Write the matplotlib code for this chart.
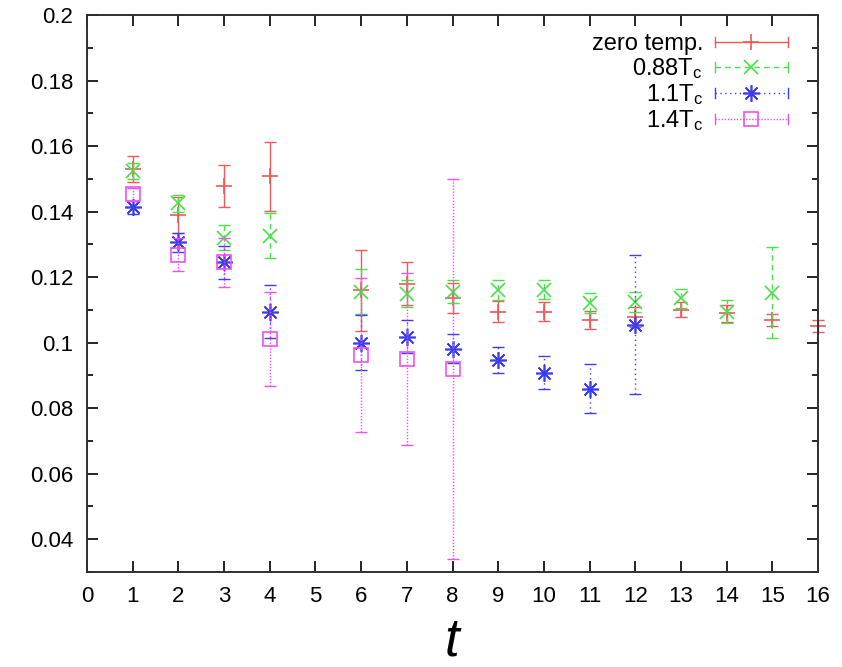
import matplotlib
matplotlib.use("Agg")
import matplotlib.pyplot as plt
from matplotlib.lines import Line2D
from matplotlib.legend_handler import HandlerBase
from matplotlib.ticker import MultipleLocator, FormatStrFormatter

plt.rcParams['font.family'] = ['Liberation Sans', 'DejaVu Sans']
plt.rcParams['mathtext.default'] = 'regular'

# ---- data ----
t_zero = [1, 2, 3, 4, 6, 7, 8, 9, 10, 11, 12, 13, 14, 15, 16]
v_zero = [0.153, 0.139, 0.1477, 0.1508, 0.116, 0.118, 0.1135, 0.1095, 0.1095,
          0.107, 0.1078, 0.110, 0.1089, 0.107, 0.105]
e_zero = [0.004, 0.0055, 0.0064, 0.0105, 0.0124, 0.0066, 0.0046, 0.0033, 0.003,
          0.0028, 0.003, 0.0023, 0.0025, 0.0018, 0.0018]

t_088 = [1, 2, 3, 4, 6, 7, 8, 9, 10, 11, 12, 13, 14, 15]
v_088 = [0.1523, 0.1425, 0.132, 0.1327, 0.1156, 0.115, 0.1156, 0.116, 0.1162,
         0.1122, 0.1125, 0.1135, 0.1095, 0.1153]
e_088 = [0.0025, 0.0025, 0.0038, 0.0068, 0.007, 0.004, 0.0035, 0.003, 0.003,
         0.003, 0.003, 0.003, 0.0035, 0.014]

t_11 = [1, 2, 3, 4, 6, 7, 8, 9, 10, 11, 12]
v_11 = [0.1413, 0.1306, 0.1245, 0.1095, 0.1, 0.1018, 0.0982, 0.0948, 0.0908,
        0.0859, 0.1055]
e_11 = [0.002, 0.003, 0.005, 0.008, 0.0085, 0.005, 0.0045, 0.004, 0.005,
        0.0075, 0.0212]

t_14 = [1, 2, 3, 4, 6, 7, 8]
v_14 = [0.1453, 0.1269, 0.1245, 0.1012, 0.0963, 0.0951, 0.092]
e_14 = [0.002, 0.005, 0.0074, 0.0144, 0.0235, 0.0263, 0.058]

labels = ["zero temp.", "0.88T$_c$", "1.1T$_c$", "1.4T$_c$"]
x_ticks = list(range(0, 17))
y_ticks = [0.04, 0.06, 0.08, 0.1, 0.12, 0.14, 0.16, 0.18, 0.2]

# ---- styles ----
styles = [
    dict(color='#f05858', ls='-', marker='+', ms=11, mfc='#f05858'),
    dict(color='#48e048', ls=(0, (4, 3)), marker='x', ms=10, mfc='#48e048'),
    dict(color='#3c3cf0', ls=(0, (1, 2.5)), marker=(8, 2, 0), ms=12, mfc='#3c3cf0'),
    dict(color='#f050f0', ls=(0, (1, 1.2)), marker='s', ms=10, mfc='none'),
]
series = [(t_zero, v_zero, e_zero), (t_088, v_088, e_088),
          (t_11, v_11, e_11), (t_14, v_14, e_14)]

fig = plt.figure(figsize=(8.42, 6.67), dpi=100)
ax = fig.add_axes([87/842, 1-572/667, (818-87)/842, (572-15)/667])

for (t, v, e), st in zip(series, styles):
    _, caps, bars = ax.errorbar(t, v, yerr=e, fmt='none', ecolor=st['color'],
                                elinewidth=1.0, capsize=4, capthick=1.0,
                                clip_on=False)
    for b in bars:
        b.set_linestyle(st['ls'])
        b.set_clip_on(False)
    for c in caps:
        c.set_clip_on(False)
    ax.plot(t, v, linestyle='none', marker=st['marker'], ms=st['ms'],
            mec=st['color'], mfc=st['mfc'], mew=1.2, clip_on=False)

ax.set_xlim(0, 16)
ax.set_ylim(0.03, 0.2)
ax.set_xticks(x_ticks)
ax.set_yticks(y_ticks)
ax.yaxis.set_minor_locator(MultipleLocator(0.01))
ax.yaxis.set_major_formatter(FormatStrFormatter('%g'))
ax.tick_params(which='both', direction='in', top=True, right=True,
               labelsize=16, width=1.2, pad=10)
ax.tick_params(which='major', length=8)
ax.tick_params(which='minor', length=4)
for s in ax.spines.values():
    s.set_linewidth(1.4)
    s.set_color('#303030')

fig.text(452/842, 1/667, 't', fontsize=38, fontstyle='italic',
         ha='center', va='bottom')


class GnuHandler(HandlerBase):
    def create_artists(self, legend, orig_handle, xdescent, ydescent,
                       width, height, fontsize, trans):
        st = orig_handle.st
        y = height / 2 - ydescent
        x0, x1 = -xdescent, width - xdescent
        h = 0.3 * height
        line = Line2D([x0, x1], [y, y], color=st['color'], ls=st['ls'], lw=1.0)
        c0 = Line2D([x0, x0], [y - h, y + h], color=st['color'], lw=1.0)
        c1 = Line2D([x1, x1], [y - h, y + h], color=st['color'], lw=1.0)
        mk = Line2D([(x0 + x1) / 2], [y], ls='none', marker=st['marker'],
                    ms=st['ms'], mec=st['color'], mfc=st['mfc'], mew=1.2)
        arts = [line, c0, c1, mk]
        for a in arts:
            a.set_transform(trans)
        return arts


handles = []
for st in styles:
    h = Line2D([], [])
    h.st = st
    handles.append(h)

leg = ax.legend(handles, labels, handler_map={Line2D: GnuHandler()},
                loc='upper right', bbox_to_anchor=((788 - 87) / 731, 0.968),
                frameon=False, markerfirst=False, fontsize=17,
                handlelength=3.1, handletextpad=0.5, labelspacing=0.05,
                borderpad=0.0, borderaxespad=0.0)

fig.savefig('out.png', dpi=100)
